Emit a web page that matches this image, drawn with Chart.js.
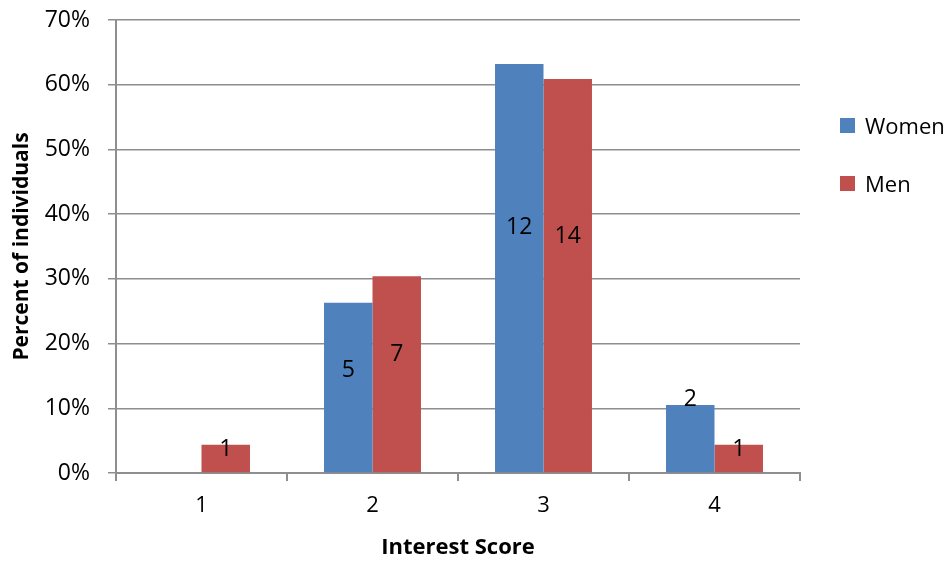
<!DOCTYPE html>
<html>
<head>
<meta charset="utf-8">
<script src="https://cdn.jsdelivr.net/npm/chart.js@4/dist/chart.umd.min.js"></script>
<style>
  html, body { margin: 0; padding: 0; background: #fff; }
  #wrap { position: relative; width: 951px; height: 561px; font-family: "Open Sans", sans-serif; }
  #legend { position: absolute; left: 840px; top: 110px; font-size: 22px; color: #000; }
  .key { display: flex; align-items: center; height: 30px; margin-bottom: 28px; }
  .sw { width: 15px; height: 15px; margin-right: 10px; }
</style>
</head>
<body>
<div id="wrap">
  <canvas id="chart" width="951" height="561"></canvas>
  <div id="legend"></div>
</div>
<script>
// Interest score distribution by gender (share of each group, count printed on the bar)
var scores = ['1', '2', '3', '4'];
var womenPct = [0, 26.3, 63.2, 10.5];
var menPct = [4.35, 30.4, 60.9, 4.35];
var womenCount = [0, 5, 12, 2];
var menCount = [1, 7, 14, 1];
var yTicks = [0, 10, 20, 30, 40, 50, 60, 70];

var BLUE = '#4f81bd', RED = '#c0504d', GRID = '#8e8e8e';

var series = [
  { label: 'Women', data: womenPct, counts: womenCount, color: BLUE },
  { label: 'Men', data: menPct, counts: menCount, color: RED }
];

// counts drawn inside / above the bars
var countLabels = {
  id: 'countLabels',
  afterDatasetsDraw: function (chart) {
    var ctx = chart.ctx;
    ctx.save();
    ctx.font = '23px "Open Sans", sans-serif';
    ctx.fillStyle = '#000';
    ctx.textAlign = 'center';
    ctx.textBaseline = 'middle';
    chart.data.datasets.forEach(function (ds, i) {
      chart.getDatasetMeta(i).data.forEach(function (bar, j) {
        var n = ds.counts[j];
        if (!n) return;
        var h = bar.base - bar.y, y;
        if (h > 100) y = bar.base - 0.6 * h;
        else if (h > 50) y = bar.y - 6;
        else y = bar.y + 5;
        ctx.fillText(String(n), bar.x, y);
      });
    });
    ctx.restore();
  }
};

new Chart(document.getElementById('chart').getContext('2d'), {
  type: 'bar',
  data: {
    labels: scores,
    datasets: series.map(function (s) {
      return { label: s.label, data: s.data, counts: s.counts, backgroundColor: s.color,
        categoryPercentage: 0.567, barPercentage: 1.0 };
    })
  },
  options: {
    responsive: false,
    animation: false,
    layout: { padding: { left: 0, top: 20, right: 151, bottom: 0 } },
    plugins: { legend: { display: false }, tooltip: { enabled: false } },
    scales: {
      x: {
        afterFit: function (s) { s.height = 88; s.paddingLeft = 0; s.paddingRight = 0; },
        grid: { offset: true, drawOnChartArea: false, drawTicks: true, tickLength: 8, color: GRID, lineWidth: 2 },
        border: { display: true, color: GRID, width: 2 },
        ticks: { color: '#000', font: { family: 'Open Sans', size: 22 }, padding: 12 },
        title: { display: true, text: 'Interest Score', color: '#000',
          font: { family: 'Open Sans', size: 22, weight: 'bold' }, padding: { top: 0, bottom: 0 } }
      },
      y: {
        min: 0, max: 70,
        afterFit: function (s) { s.width = 116; s.paddingTop = 0; s.paddingBottom = 0; },
        afterBuildTicks: function (s) { s.ticks = yTicks.map(function (v) { return { value: v }; }); },
        grid: { drawTicks: true, tickLength: 8, color: GRID, lineWidth: 1.5 },
        border: { display: true, color: GRID, width: 2 },
        ticks: { color: '#000', font: { family: 'Open Sans', size: 23 }, padding: 18,
          callback: function (v) { return v + '%'; } },
        title: { display: true, text: 'Percent of individuals', color: '#000',
          font: { family: 'Open Sans', size: 21, weight: 'bold' }, padding: { top: 9, bottom: 0 } }
      }
    }
  },
  plugins: [countLabels]
});

document.getElementById('legend').innerHTML = series.map(function (s) {
  return '<div class="key"><span class="sw" style="background:' + s.color + '"></span>' + s.label + '</div>';
}).join('');
</script>
</body>
</html>
